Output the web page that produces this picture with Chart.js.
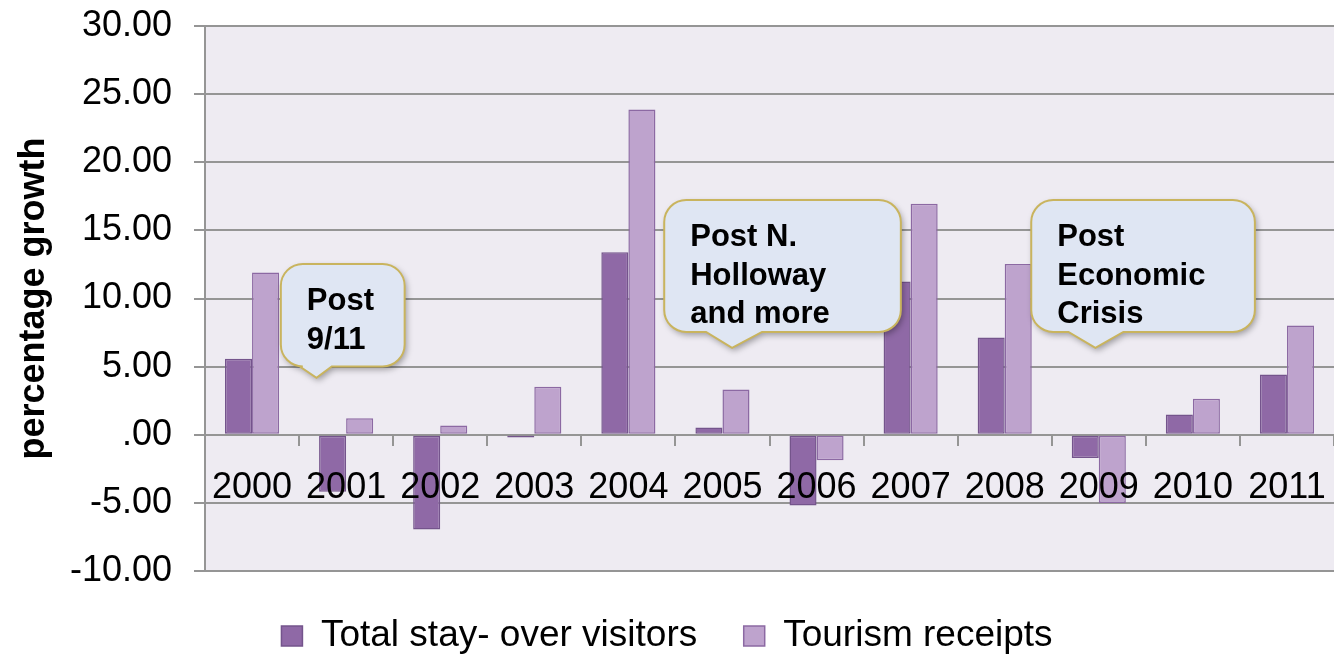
<!DOCTYPE html>
<html>
<head>
<meta charset="utf-8">
<script src="https://cdn.jsdelivr.net/npm/chart.js@4.4.0/dist/chart.umd.min.js"></script>
<style>
  html, body { margin: 0; padding: 0; background: #ffffff; }
  #wrap { width: 1334px; height: 656px; position: relative; }
</style>
</head>
<body>
<div id="wrap"><canvas id="c"></canvas></div>
<script>
// ---- data ----
const categories = ['2000', '2001', '2002', '2003', '2004', '2005', '2006', '2007', '2008', '2009', '2010', '2011'];
const stayOverVisitors = [5.57, -4.18, -6.96, -0.20, 13.39, 0.54, -5.20, 11.24, 7.13, -1.71, 1.49, 4.42];
const tourismReceipts = [11.90, 1.22, 0.68, 3.52, 23.88, 3.32, -1.88, 16.96, 12.54, -5.00, 2.64, 8.01];
const seriesNames = ['Total stay- over visitors', 'Tourism receipts'];
const yMin = -10, yMax = 30, yStep = 5;
const axisTitle = 'percentage growth';

// ---- callout annotations (category index / value coordinates) ----
const calloutTexts = [['Post', '9/11'], ['Post N.', 'Holloway', 'and more'], ['Post', 'Economic', 'Crisis']];
const calloutTips = [{ i: 0.685, v: 4.18 }, { i: 5.102, v: 6.38 }, { i: 8.964, v: 6.38 }];
const calloutBoxes = [
  { l: 0.306, r: 1.622, t: 12.54, b: 5.01, bl: 0.508, br: 0.847 },
  { l: 4.381, r: 6.896, t: 17.23, b: 7.55, bl: 4.826, br: 5.420 },
  { l: 8.282, r: 10.659, t: 17.23, b: 7.55, bl: 8.678, br: 9.261 }
];

const FONT = '"Liberation Sans", Arial, Helvetica, sans-serif';
const GRID = '#959595';

function fmtTick(v) {
  if (v === 0) return '.00';
  return Number(v).toFixed(2);
}

const plotBg = {
  id: 'plotBg',
  beforeDraw(chart) {
    const { ctx, chartArea: a } = chart;
    ctx.save();
    ctx.fillStyle = '#EEEBF2';
    ctx.fillRect(a.left, a.top, a.right - a.left, a.bottom - a.top);
    ctx.restore();
  }
};

function calloutPath(ctx, l, t, r, b, bl, br, tx, ty, rad) {
  ctx.beginPath();
  ctx.moveTo(l + rad, t);
  ctx.lineTo(r - rad, t);
  ctx.arcTo(r, t, r, t + rad, rad);
  ctx.lineTo(r, b - rad);
  ctx.arcTo(r, b, r - rad, b, rad);
  ctx.lineTo(br, b);
  ctx.lineTo(tx, ty);
  ctx.lineTo(bl, b);
  ctx.lineTo(l + rad, b);
  ctx.arcTo(l, b, l, b - rad, rad);
  ctx.lineTo(l, t + rad);
  ctx.arcTo(l, t, l + rad, t, rad);
  ctx.closePath();
}

const callouts = {
  id: 'callouts',
  afterDatasetsDraw(chart) {
    const { ctx, scales: { x, y } } = chart;
    calloutBoxes.forEach((bx, k) => {
      const l = x.getPixelForValue(bx.l), r = x.getPixelForValue(bx.r);
      const t = y.getPixelForValue(bx.t), b = y.getPixelForValue(bx.b);
      const bl = x.getPixelForValue(bx.bl), br = x.getPixelForValue(bx.br);
      const tx = x.getPixelForValue(calloutTips[k].i), ty = y.getPixelForValue(calloutTips[k].v);
      ctx.save();
      calloutPath(ctx, l, t, r, b, bl, br, tx, ty, 22);
      ctx.shadowColor = 'rgba(0,0,0,0.35)';
      ctx.shadowBlur = 6;
      ctx.shadowOffsetX = 2;
      ctx.shadowOffsetY = 3;
      ctx.fillStyle = '#DFE6F3';
      ctx.fill();
      ctx.shadowColor = 'transparent';
      ctx.lineWidth = 2;
      ctx.strokeStyle = '#C9B45E';
      ctx.stroke();
      ctx.fillStyle = '#000';
      ctx.font = 'bold 31px ' + FONT;
      ctx.textAlign = 'left';
      ctx.textBaseline = 'alphabetic';
      calloutTexts[k].forEach((line, j) => {
        ctx.fillText(line, l + 26, t + 46 + j * 38.7);
      });
      ctx.restore();
    });
  }
};

new Chart(document.getElementById('c'), {
  type: 'bar',
  data: {
    labels: categories,
    datasets: [
      {
        label: seriesNames[0],
        data: stayOverVisitors,
        backgroundColor: '#8F69A6',
        borderColor: '#74548C',
        borderWidth: 1.5,
        borderSkipped: false
      },
      {
        label: seriesNames[1],
        data: tourismReceipts,
        backgroundColor: '#BEA3CD',
        borderColor: '#8C69A3',
        borderWidth: 1.5,
        borderSkipped: false
      }
    ]
  },
  options: {
    responsive: true,
    maintainAspectRatio: false,
    animation: false,
    datasets: { bar: { categoryPercentage: 0.575, barPercentage: 1.0 } },
    layout: { padding: { top: 26, right: 0, bottom: -8.5, left: 0 } },
    plugins: {
      tooltip: { enabled: false },
      legend: {
        position: 'bottom',
        labels: {
          font: { family: FONT, size: 37 },
          color: '#000',
          boxWidth: 21,
          boxHeight: 20,
          padding: 46.5
        }
      }
    },
    scales: {
      x: {
        position: { y: 0 },
        offset: true,
        grid: { drawOnChartArea: false, drawTicks: true, tickLength: 11, color: GRID, lineWidth: 2 },
        border: { display: false },
        ticks: {
          font: { family: FONT, size: 36 },
          color: '#000',
          padding: 21,
          autoSkip: false,
          maxRotation: 0,
          minRotation: 0,
          z: 1
        },
        afterFit(s) { s.height = 0; s.paddingLeft = 0; s.paddingRight = 0; }
      },
      y: {
        min: yMin,
        max: yMax,
        ticks: {
          stepSize: yStep,
          callback: (v) => fmtTick(v),
          font: { family: FONT, size: 36 },
          color: '#000',
          padding: 22
        },
        grid: { color: GRID, lineWidth: 2, tickLength: 11, drawTicks: true },
        border: { display: true, color: GRID, width: 2 },
        title: {
          display: true,
          text: axisTitle,
          font: { family: FONT, size: 36, weight: 'bold' },
          color: '#000',
          padding: { top: 12, bottom: 0 }
        },
        afterFit(s) { s.width = 205; s.paddingTop = 0; s.paddingBottom = 0; }
      }
    }
  },
  plugins: [plotBg, callouts]
});
</script>
</body>
</html>
